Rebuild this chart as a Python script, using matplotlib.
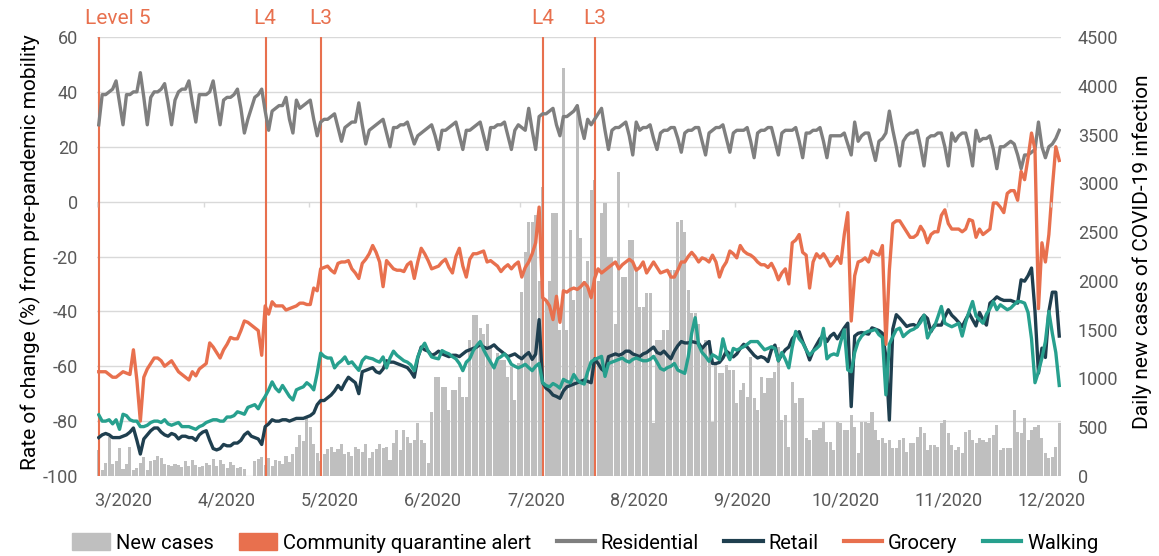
import numpy as np
import matplotlib
matplotlib.use("Agg")
import matplotlib.pyplot as plt
from matplotlib.patches import Patch
from matplotlib.lines import Line2D

# x axis labels and quarantine alert changes (day index from start of data)
month_labels = ["3/2020", "4/2020", "5/2020", "6/2020", "7/2020",
                "8/2020", "9/2020", "10/2020", "11/2020", "12/2020"]
month_lengths = [31, 30, 31, 30, 31, 31, 30, 31, 30]
alert_days = [0, 48, 64, 128, 143]
alert_labels = ["Level 5", "L4", "L3", "L4", "L3"]

# mobility, % change from baseline (daily)
residential = [
    28, 39, 39, 40, 41, 44, 36, 28, 39, 39, 40, 40, 47, 38,
    28, 38, 40, 40, 41, 43, 36, 28, 37, 40, 41, 41, 44, 36,
    29, 39, 39, 39, 40, 44, 36, 28, 37, 38, 38, 39, 41, 34,
    25, 30, 34, 38, 39, 41, 33, 26, 33, 34, 35, 35, 38, 30,
    25, 37, 34, 35, 36, 37, 30, 24, 29, 30, 30, 31, 32, 27,
    22, 27, 28, 29, 29, 36, 28, 21, 26, 27, 28, 29, 30, 25,
    20, 27, 27, 28, 28, 29, 25, 21, 24, 25, 26, 27, 28, 24,
    19, 26, 26, 27, 28, 29, 24, 19, 26, 26, 27, 28, 29, 24,
    19, 27, 27, 28, 28, 29, 24, 19, 26, 28, 27, 26, 34, 26,
    19, 31, 32, 32, 33, 34, 28, 24, 31, 31, 32, 33, 35, 28,
    23, 30, 28, 30, 32, 34, 26, 19, 26, 27, 27, 28, 29, 24,
    17, 29, 26, 27, 27, 28, 23, 19, 25, 26, 26, 27, 27, 23,
    18, 25, 26, 26, 27, 27, 22, 17, 25, 26, 27, 27, 28, 23,
    18, 25, 26, 26, 26, 27, 22, 16, 25, 26, 26, 27, 27, 22,
    17, 25, 26, 26, 26, 27, 22, 16, 25, 25, 26, 26, 27, 22,
    16, 24, 24, 24, 24, 25, 21, 17, 29, 22, 24, 25, 25, 20,
    15, 22, 23, 25, 33, 26, 20, 13, 22, 24, 25, 25, 26, 20,
    13, 23, 24, 24, 25, 25, 20, 13, 25, 22, 24, 25, 25, 20,
    13, 26, 22, 23, 23, 24, 19, 12, 20, 20, 21, 22, 21, 17,
    12, 17, 17, 18, 19, 29, 20, 16, 20, 21, 23, 26,
]

retail = [
    -86, -85, -84.5, -85, -86, -86, -86, -85.5, -85, -84,
    -82.5, -87, -92, -86.5, -85, -83.5, -82.5, -82.5, -84, -85,
    -85.5, -84.5, -85, -86.5, -85.5, -85.5, -86, -86, -87, -85,
    -84, -83.5, -87, -90, -90.5, -90, -88.5, -89, -89, -88,
    -88, -87, -85, -84, -85.5, -86, -86.5, -88.5, -82, -81,
    -79.5, -80, -80, -79.5, -79.5, -80, -79.5, -79, -79, -79,
    -78.5, -78, -77, -74, -72.5, -72.5, -71.5, -70.5, -69, -67,
    -68.5, -66, -64, -65, -66, -70, -62, -61.5, -61, -60.5,
    -62, -62.5, -61, -58, -58.5, -58.5, -59, -59.5, -60, -60.5,
    -62, -64, -57, -53, -54, -54.5, -56, -55.5, -54.5, -55.5,
    -56, -56.5, -56, -56, -56.5, -55.5, -54.5, -54, -53.5, -53,
    -52, -53, -53.5, -53, -52.2, -53.5, -54.5, -55.5, -56.5, -56,
    -55.5, -56.5, -57.3, -56, -55, -57.5, -55.6, -43, -66, -68,
    -69, -70.5, -71, -71.7, -69, -67.5, -67, -66.5, -66, -65.5,
    -65, -65.5, -66, -57.3, -59, -61, -62, -56.5, -56, -55.5,
    -56, -55.5, -54.5, -54.5, -55.5, -56, -56.5, -55.5, -55, -54,
    -53, -55, -55.5, -54.5, -56, -57.3, -54.5, -52.5, -51, -51.5,
    -51.5, -51, -51.3, -51.6, -53.5, -52, -51, -59, -59, -58.6,
    -57, -54.5, -55.5, -56.6, -55.5, -53.5, -52, -53, -54.5, -56,
    -57, -56.5, -57, -58.3, -54, -52.3, -58, -55.7, -54, -53,
    -50, -48.5, -47.4, -51, -54, -57.7, -54.5, -52.2, -50, -48.6,
    -51, -49, -48, -50, -48, -46, -44.3, -74.7, -49, -48,
    -47.7, -48, -48.3, -46, -46.5, -47, -48, -56.5, -79.6, -46.4,
    -41.2, -42.5, -44, -45.5, -45, -44.8, -45.6, -43, -41.4, -42.6,
    -47.4, -45, -45, -45, -42, -39.4, -41.4, -42.6, -44, -45.6,
    -43, -40.7, -43, -45.3, -40.4, -43, -45, -37, -36, -34.7,
    -35.5, -36, -36, -36, -36.5, -37, -28.5, -29, -27, -24.2,
    -40, -62.5, -53.4, -56.8, -40, -33, -33, -49,
]

grocery = [
    -62, -62, -62, -63, -64, -64, -63, -62, -62.5, -63,
    -54, -65, -80, -64, -61, -59, -57, -57, -58, -60,
    -59, -58, -60, -62, -63, -64, -65, -62, -63.5, -61,
    -60, -59, -51.5, -53, -55, -57, -54, -52, -49.5, -50,
    -50, -47, -43.5, -44, -45, -46, -47, -56, -38, -41,
    -36.5, -38, -38, -38, -39.5, -39, -38.5, -38, -37, -37,
    -37.5, -37.5, -31.5, -32.5, -24.5, -24, -23.5, -25, -26, -22.5,
    -22, -22, -21.5, -24.5, -26, -28, -22.5, -21, -19, -16,
    -18.5, -22, -31, -21.5, -23, -24.5, -25, -25, -25.5, -23,
    -22, -28, -22, -17, -19, -21.5, -24.5, -24, -23.5, -22,
    -21, -24, -26, -20, -17, -23.5, -27.5, -21, -19, -19,
    -18.5, -18, -22, -21.5, -22.5, -23.5, -25.5, -24, -23, -24.5,
    -23, -22, -27.5, -24, -22, -19, -15, -2, -35, -36,
    -38, -43, -34.5, -44, -32.5, -33, -32, -31.5, -32, -31,
    -29.5, -31, -35, -28, -24.5, -26, -25, -24, -23, -22,
    -24.5, -23, -22, -21, -22, -25, -24, -22, -26, -24,
    -22, -24, -26, -25.5, -25, -27.5, -27.5, -25, -22, -22,
    -20, -18.5, -20, -22, -20.5, -21, -22, -19.5, -22, -27.5,
    -24, -22, -18, -19, -20.5, -16, -18, -19, -19.5, -20.5,
    -22, -23, -23, -24, -22.5, -25, -28.5, -26, -24.5, -30,
    -15, -14, -12, -18.5, -19.5, -31.5, -22, -19, -20.5, -19,
    -21, -23.5, -22, -20, -22.5, -12, -4, -43.5, -27, -22,
    -21.5, -20.5, -22, -18, -19, -19.5, -16, -52, -25, -8,
    -7, -7, -9, -11, -13, -13, -12, -9, -11, -15,
    -12, -11, -11, -5, -3, -8, -10, -10, -10, -11,
    -10, -6.5, -7, -13, -10, -12, -11, -10, -0.5, -0.5,
    -2, -4, 3, 4, 4, 0.5, 11, 8, 16, 25,
    19, -39, -15, -22, -12, 5, 20, 15,
]

walking = [
    -77.7, -80, -80, -79.5, -81, -79.5, -83, -77.5, -78, -79.5,
    -80, -80, -82, -82, -81.5, -80.5, -80, -80, -80.5, -79.5,
    -81, -81.5, -81, -80.5, -82, -82, -82, -82.5, -83, -82,
    -81.5, -80.5, -80, -79.5, -79.5, -80, -80, -78.5, -78.5, -78,
    -76.6, -77, -77.5, -75, -74.5, -74, -75.5, -73, -71, -68.6,
    -65.7, -68, -69.3, -67, -69, -71, -72.3, -68.6, -68, -67.5,
    -66, -67, -68.6, -62.5, -55.2, -56.4, -57, -57, -60.6, -59,
    -58, -56.6, -59, -58.4, -60, -61.5, -58, -56.6, -57, -57.3,
    -58, -58.5, -56.6, -60.6, -57, -54.5, -56, -57, -58, -58.5,
    -59.5, -61.6, -56.6, -53.5, -51.6, -54.5, -56.6, -57, -57.3, -54.3,
    -55, -55.5, -56.5, -57.3, -59, -61.6, -58.5, -57.3, -54.3, -52.5,
    -51, -54, -56.4, -58.5, -60.6, -57.3, -56.5, -55.5, -57, -59.3,
    -60, -60.6, -60, -59.3, -60.5, -61.6, -60, -59, -66, -67,
    -67.5, -66.3, -67, -68, -64.8, -65.5, -66, -63, -65, -66,
    -66.5, -62, -58.4, -57.5, -57, -56.4, -63.7, -59, -58.5, -58,
    -57.5, -57, -58, -58.5, -57.5, -57, -57.5, -58, -58, -57.5,
    -56.4, -58.5, -60.8, -61.4, -60.5, -60, -59, -61.4, -62, -62.6,
    -56.6, -48, -42.3, -52.3, -55, -56.4, -58.2, -55.8, -56.5, -57.6,
    -50, -55, -57.6, -53.5, -54.1, -53.5, -52.9, -52, -51, -51,
    -51, -52.5, -54, -53.5, -52.9, -53.5, -58, -55, -57.5, -60.6,
    -53, -47.3, -50, -51.5, -54, -56, -54.5, -53.5, -52.3, -46.2,
    -57.3, -56, -55.5, -56, -51, -46.7, -61.3, -62, -55, -51,
    -49, -47.8, -47.2, -47, -46.6, -48.5, -49.5, -70.4, -52, -49.2,
    -46.7, -46.1, -49.2, -48, -47, -46.5, -45.6, -44, -41.4, -49.7,
    -47, -45.6, -42, -38.2, -44.3, -45, -45.6, -45, -44.3, -49,
    -44, -40, -36.4, -41.7, -43, -44.3, -41, -39, -36.4, -39.4,
    -37.6, -38.5, -39.4, -38.8, -37.5, -36.4, -36.5, -37, -40.4, -50,
    -66, -62, -57, -51, -40, -48, -55, -67,
]

# daily new cases (right axis)
new_cases = [
    270, 60, 130, 400, 120, 150, 290, 70, 120, 300,
    60, 80, 130, 190, 60, 150, 160, 200, 180, 120,
    110, 100, 120, 110, 90, 150, 100, 160, 110, 90, 100,
    130, 110, 170, 100, 160, 120, 80, 140, 110, 80,
    90, 70, 0, 0, 150, 170, 190, 110, 180, 100,
    160, 150, 120, 200, 140, 230, 300, 420, 360, 600,
    500, 330, 240, 150, 230, 280, 300, 250, 280, 330,
    230, 250, 200, 300, 280, 250, 330, 180, 250, 280,
    330, 284, 300, 164, 335, 471, 266, 471, 403, 335, 369,
    540, 369, 335, 130, 659, 1017, 1017, 914, 914, 675,
    880, 880, 1017, 812, 812, 1393, 1650, 1650, 1512, 1460,
    1563, 1324, 1120, 1256, 1188, 1188, 1017, 1120, 778, 1154,
    1889, 2300, 2600, 2600, 2680, 2000, 2960, 1800, 2000, 2700,
    2700, 1500, 4180, 1500, 2520, 1800, 3800, 2440, 2000, 2200,
    2930, 3030, 2000, 2700, 2800, 2250, 2250, 1563, 3120, 2043, 2043,
    2419, 2419, 2111, 1735, 1735, 1872, 1872, 540, 1393, 1393,
    1496, 1496, 2111, 2111, 2600, 2620, 2500, 1906, 1667, 1667,
    1563, 1324, 1393, 1393, 557, 1154, 1051, 1051, 1137, 1086, 1086,
    744, 880, 949, 812, 1222, 795, 675, 1018, 848, 1001,
    1001, 1069, 1325, 574, 625, 300, 967, 745, 797, 797,
    387, 369, 472, 472, 489, 558, 352, 352, 267, 558,
    540, 472, 472, 626, 506, 233, 558, 558, 540, 660,
    472, 369, 387, 335, 369, 284, 284, 369, 387, 250,
    335, 335, 404, 506, 438, 267, 318, 318, 301, 540,
    574, 438, 318, 267, 301, 233, 455, 472, 369, 335,
    387, 369, 352, 387, 421, 523, 267, 284, 284, 284,
    675, 455, 438, 591, 369, 472, 506, 523, 387, 233,
    182, 199, 301, 548,
]

plt.rcParams['font.family'] = ['Roboto', 'DejaVu Sans']
plt.rcParams['axes.unicode_minus'] = False

c_res = '#7f7f7f'
c_retail = '#1f3f4f'
c_groc = '#e8704e'
c_walk = '#27a08e'
c_bar = '#bfbfbf'
c_tick = '#595959'
c_grid = '#d9d9d9'

days = np.arange(len(residential))

fig = plt.figure(figsize=(11.59, 5.56), dpi=100)
W, H = 1159, 556
ax = fig.add_axes([97 / W, 1 - 476 / H, (1061 - 97) / W, (476 - 37) / H])
ax2 = ax.twinx()
ax.set_zorder(ax2.get_zorder() + 1)
ax.patch.set_visible(False)

# gridlines follow the left axis but sit behind the columns
for v in range(-100, 61, 20):
    ax2.axhline((v + 100) / 160 * 4500, color=c_grid, lw=1, zorder=0)

ax2.bar(days, new_cases, width=0.88, color=c_bar, zorder=1)
# alert columns: thin, with an edge so they never vanish when antialiased
ax2.bar(alert_days, [4500] * len(alert_days), width=0.35, color=c_groc,
        edgecolor=c_groc, linewidth=0.8, zorder=2)

ax.plot(days, residential, color=c_res, lw=2.4, solid_joinstyle='round')
ax.plot(days, retail, color=c_retail, lw=2.4, solid_joinstyle='round')
ax.plot(days, grocery, color=c_groc, lw=2.4, solid_joinstyle='round')
ax.plot(days, walking, color=c_walk, lw=2.4, solid_joinstyle='round')

# small month tick marks hanging off the zero line
bounds = np.concatenate([[0], np.cumsum(month_lengths)]) - 0.5
ax.vlines(bounds, -1.8, 0, color=c_grid, lw=1)

ax.set_xlim(-0.5, len(days) - 0.5)
ax.set_ylim(-100, 60)
ax2.set_ylim(0, 4500)
ax.set_yticks(range(-100, 61, 20))
ax2.set_yticks(range(0, 4501, 500))
ax.set_xticks(np.linspace(7.1, 274.8, len(month_labels)))
ax.set_xticklabels(month_labels)

for a in (ax, ax2):
    for s in a.spines.values():
        s.set_visible(False)
ax.tick_params(axis='y', length=0, labelsize=13, labelcolor=c_tick, pad=13.5)
ax2.tick_params(axis='y', length=0, labelsize=13, labelcolor=c_tick, pad=12)
ax.tick_params(axis='x', length=0, labelsize=13, labelcolor=c_tick, pad=11)

fig.text(30 / W, 1 - 252 / H, "Rate of change (%) from pre-pandemic mobility",
         rotation=90, ha='center', va='center', fontsize=15)
fig.text(1142 / W, 1 - 252 / H, "Daily new cases of COVID-19 infection",
         rotation=90, ha='center', va='center', fontsize=15)

for d, lab in zip(alert_days, alert_labels):
    if lab == "Level 5":
        ax.annotate(lab, xy=(d, 1), xycoords=('data', 'axes fraction'),
                    xytext=(-10, 13), textcoords='offset points',
                    ha='left', va='center', color=c_groc, fontsize=15)
    else:
        ax.annotate(lab, xy=(d, 1), xycoords=('data', 'axes fraction'),
                    xytext=(0, 13), textcoords='offset points',
                    ha='center', va='center', color=c_groc, fontsize=15)

handles = [
    Patch(color=c_bar, label='New cases'),
    Patch(color=c_groc, label='Community quarantine alert'),
    Line2D([], [], color=c_res, lw=3, label='Residential'),
    Line2D([], [], color=c_retail, lw=3, label='Retail'),
    Line2D([], [], color=c_groc, lw=3, label='Grocery'),
    Line2D([], [], color=c_walk, lw=3, label='Walking'),
]
fig.legend(handles=handles, loc='center', bbox_to_anchor=(585 / W, 1 - 543 / H),
           ncol=6, frameon=False, fontsize=14.5, handlelength=1.9,
           handleheight=0.9, handletextpad=0.3, columnspacing=1.25)

fig.savefig("out.png", dpi=100)
